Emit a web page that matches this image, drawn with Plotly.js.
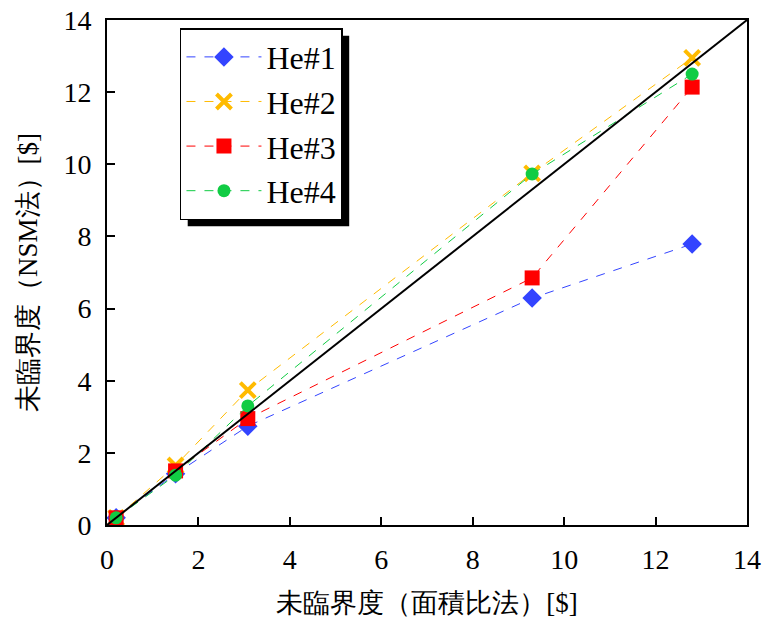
<!DOCTYPE html>
<html><head><meta charset="utf-8">
<script src="https://cdn.plot.ly/plotly-3.0.1.min.js"></script>
<style>
body{margin:0;background:#fff}#c{width:766px;height:630px}
#c svg text{font-family:'Liberation Serif','Times New Roman',serif !important;}
</style>
</head><body><div id="c"></div>
<script>
const xVals = [0.2, 1.5, 3.08, 9.3, 12.8];
const he1 = [0.2, 1.42, 2.74, 6.29, 7.79];
const he2 = [0.2, 1.65, 3.74, 9.75, 12.95];
const he3 = [0.2, 1.5, 2.95, 6.85, 12.14];
const he4 = [0.2, 1.38, 3.3, 9.73, 12.5];
const seriesNames = ['He#1', 'He#2', 'He#3', 'He#4'];
const diagX = [0, 14];
const diagY = [0, 14];
const xTitle = '未臨界度（面積比法）[$]';
const yTitle = '未臨界度（NSM法）[$]';

const font = 'Liberation Serif';
const styles = [
  {color:'#3344ff', symbol:'diamond', size:15},
  {color:'#ffbb00', symbol:'x-thin-open', size:15},
  {color:'#ff0000', symbol:'square', size:15},
  {color:'#11cc44', symbol:'circle', size:13}
];
const ys = [he1, he2, he3, he4];
const traces = ys.map((y,i)=>({
  x:xVals, y:y, name:seriesNames[i], type:'scatter', mode:'lines+markers',
  line:{color:styles[i].color, width:1, dash:'dash'},
  marker:{color:styles[i].color, symbol:styles[i].symbol, size:styles[i].size,
    line:{color:styles[i].color, width: styles[i].symbol==='x-thin-open'?4:0}}
}));
traces.push({x:diagX, y:diagY, type:'scatter', mode:'lines', showlegend:false,
  line:{color:'#000', width:2}, hoverinfo:'skip'});

const layout = {
  width:766, height:630,
  margin:{l:107, r:19, t:20, b:105},
  paper_bgcolor:'#fff', plot_bgcolor:'#fff',
  font:{family:font, size:27, color:'#000'},
  showlegend:true,
  legend:{x:0.114, y:0.984, xanchor:'left', yanchor:'top', bgcolor:'#fff',
    bordercolor:'#000', borderwidth:1.5, font:{family:font, size:32}, tracegroupgap:4,
    itemwidth:75},
  xaxis:{range:[0,14], dtick:2, ticks:'inside', ticklen:8, tickwidth:2, tickcolor:'#000',
    showline:true, linecolor:'#000', linewidth:2, mirror:true, showgrid:false, zeroline:false,
    tickfont:{family:font, size:28}, ticklabelstandoff:8,
    title:{text:xTitle, font:{family:font, size:27}, standoff:20}},
  yaxis:{range:[0,14], dtick:2, ticks:'inside', ticklen:8, tickwidth:2, tickcolor:'#000',
    showline:true, linecolor:'#000', linewidth:2, mirror:true, showgrid:false, zeroline:false,
    tickfont:{family:font, size:28}, ticklabelstandoff:8,
    title:{text:yTitle, font:{family:font, size:27}, standoff:18}},
  shapes:[]
};
Plotly.newPlot('c', traces, layout, {displayModeBar:false}).then(gd=>{
  const bg = gd.querySelector('.legend .bg');
  if(!bg) return;
  const r = bg.getBoundingClientRect();
  const fs = gd._fullLayout._size;
  const W = fs.w, H = fs.h, L = fs.l, T = fs.t;
  const off = 7;
  const x0 = (r.left + off - L)/W, x1 = (r.right + off - L)/W;
  const y1 = 1 - (r.top + off - T)/H, y0 = 1 - (r.bottom + off - T)/H;
  Plotly.relayout(gd, {shapes:[{type:'rect', xref:'paper', yref:'paper', x0:x0, x1:x1, y0:y0, y1:y1,
    fillcolor:'#000', line:{width:0}, layer:'above'}]}).then(()=>{
      const leg = gd.querySelector('.legend');
      if(leg && leg.parentNode) leg.parentNode.appendChild(leg);
    });
});
</script></body></html>
